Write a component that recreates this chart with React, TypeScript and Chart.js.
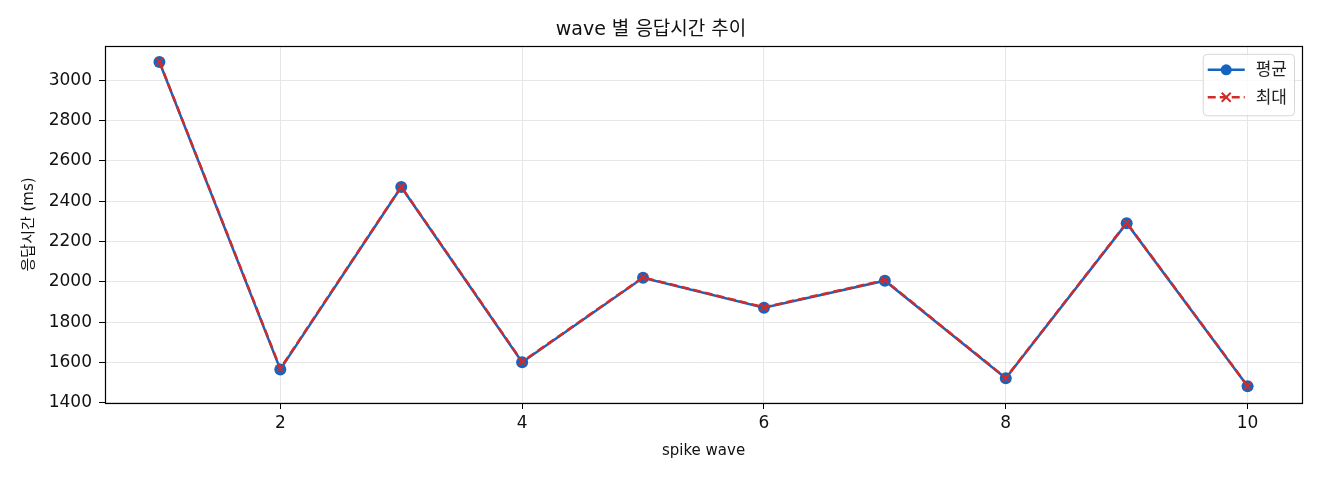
import React, { useEffect, useRef } from "react";
import { Chart, registerables } from "chart.js";

Chart.register(...registerables);

// spike wave index and response times (ms)
const waves = [1, 2, 3, 4, 5, 6, 7, 8, 9, 10];
const avgMs = [3090, 1566, 2470, 1602, 2020, 1872, 2006, 1522, 2291, 1482];
const maxMs = [3092, 1570, 2472, 1604, 2022, 1874, 2008, 1524, 2293, 1484];

const xTicks = [2, 4, 6, 8, 10];
const yTicks = [1400, 1600, 1800, 2000, 2200, 2400, 2600, 2800, 3000];
const xRange = [0.55, 10.45];
const yRange = [1399.5, 3170.5];

const BLUE = "#1565c0";
const RED = "#d02c2c";
const FONT = "'DejaVu Sans', 'Noto Sans CJK KR', sans-serif";

// matplotlib-like frame around the plot area
const framePlugin = {
  id: "frame",
  afterDatasetsDraw(chart: any) {
    const { ctx, chartArea: a } = chart;
    ctx.save();
    ctx.strokeStyle = "#000";
    ctx.lineWidth = 1.2;
    ctx.strokeRect(Math.round(a.left) + 0.5, Math.round(a.top) + 0.5, Math.round(a.right - a.left), Math.round(a.bottom - a.top));
    ctx.restore();
  },
};

// legend drawn inside the upper right corner of the plot area
const insideLegend = {
  id: "insideLegend",
  afterDraw(chart: any) {
    const { ctx, chartArea: a } = chart;
    const sets = chart.data.datasets;
    ctx.save();
    ctx.font = `17px ${FONT}`;
    const textW = Math.max(...sets.map((d: any) => ctx.measureText(d.label).width));
    const sample = 37;
    const rowH = 27.5;
    const w = 5 + sample + 11 + textW + 7;
    const h = 16 + rowH + 18;
    const x0 = a.right - 8 - w;
    const y0 = a.top + 8;

    ctx.beginPath();
    ctx.roundRect(x0 + 0.5, y0 + 0.5, w, h, 4);
    ctx.fillStyle = "rgba(255,255,255,0.8)";
    ctx.fill();
    ctx.strokeStyle = "#d6d6d6";
    ctx.lineWidth = 1;
    ctx.stroke();

    sets.forEach((d: any, i: number) => {
      const cy = y0 + 16 + i * rowH;
      const sx = x0 + 5;
      ctx.strokeStyle = d.borderColor;
      ctx.lineWidth = 2.5;
      ctx.setLineDash(d.borderDash || []);
      ctx.beginPath();
      ctx.moveTo(sx, cy);
      ctx.lineTo(sx + sample, cy);
      ctx.stroke();
      ctx.setLineDash([]);
      const mx = sx + sample / 2;
      if (d.pointStyle === "crossRot") {
        const r = 4.5;
        ctx.lineWidth = 2;
        ctx.beginPath();
        ctx.moveTo(mx - r, cy - r);
        ctx.lineTo(mx + r, cy + r);
        ctx.moveTo(mx + r, cy - r);
        ctx.lineTo(mx - r, cy + r);
        ctx.stroke();
      } else {
        ctx.fillStyle = d.pointBackgroundColor;
        ctx.beginPath();
        ctx.arc(mx, cy, 5.5, 0, Math.PI * 2);
        ctx.fill();
      }
      ctx.fillStyle = "#222";
      ctx.textBaseline = "middle";
      ctx.textAlign = "left";
      ctx.fillText(d.label, sx + sample + 11, cy + 1);
    });
    ctx.restore();
  },
};

export default function App() {
  const canvasRef = useRef<HTMLCanvasElement | null>(null);
  const chartRef = useRef<Chart | null>(null);

  useEffect(() => {
    if (!canvasRef.current) return;
    if (chartRef.current) chartRef.current.destroy();
    const ctx = canvasRef.current.getContext("2d");
    if (!ctx) return;

    chartRef.current = new Chart(ctx, {
      type: "line",
      data: {
        datasets: [
          {
            label: "평균",
            data: waves.map((w, i) => ({ x: w, y: avgMs[i] })),
            borderColor: BLUE,
            backgroundColor: BLUE,
            pointBackgroundColor: BLUE,
            pointBorderColor: BLUE,
            borderWidth: 2.5,
            pointRadius: 6,
            pointBorderWidth: 0,
            pointStyle: "circle",
            tension: 0,
            order: 2,
          },
          {
            label: "최대",
            data: waves.map((w, i) => ({ x: w, y: maxMs[i] })),
            borderColor: RED,
            backgroundColor: RED,
            pointBackgroundColor: RED,
            pointBorderColor: RED,
            borderWidth: 2.5,
            borderDash: [8, 4],
            pointRadius: 5,
            pointBorderWidth: 2,
            pointStyle: "crossRot",
            tension: 0,
            order: 1,
          },
        ],
      },
      options: {
        animation: false,
        responsive: true,
        maintainAspectRatio: false,
        layout: { padding: { left: 0, right: 18, top: 0, bottom: 0 } },
        plugins: {
          legend: { display: false },
          tooltip: { enabled: false },
          title: {
            display: true,
            text: "wave 별 응답시간 추이",
            color: "#111",
            font: { family: FONT, size: 19, weight: "normal" },
            padding: { top: 19, bottom: 4 },
          },
        },
        scales: {
          x: {
            type: "linear",
            min: xRange[0],
            max: xRange[1],
            afterBuildTicks: (axis: any) => {
              axis.ticks = xTicks.map((v) => ({ value: v }));
            },
            afterFit: (axis: any) => {
              axis.height = 77;
            },
            grid: {
              color: "#e6e6e6",
              lineWidth: 1,
              tickColor: "#000",
              tickLength: 6,
              tickWidth: 1,
            },
            border: { display: false },
            ticks: {
              color: "#111",
              font: { family: FONT, size: 17 },
              padding: 4,
              maxRotation: 0,
              callback: (v: any) => String(v),
            },
            title: {
              display: true,
              text: "spike wave",
              color: "#111",
              font: { family: FONT, size: 15 },
              padding: { top: 0, bottom: 20 },
            },
          },
          y: {
            type: "linear",
            min: yRange[0],
            max: yRange[1],
            afterBuildTicks: (axis: any) => {
              axis.ticks = yTicks.map((v) => ({ value: v }));
            },
            afterFit: (axis: any) => {
              axis.width = 105;
            },
            grid: {
              color: "#e6e6e6",
              lineWidth: 1,
              tickColor: "#000",
              tickLength: 6,
              tickWidth: 1,
            },
            border: { display: false },
            ticks: {
              color: "#111",
              font: { family: FONT, size: 17 },
              padding: 7,
              callback: (v: any) => String(v),
            },
            title: {
              display: true,
              text: "응답시간 (ms)",
              color: "#111",
              font: { family: FONT, size: 15 },
              padding: { top: 20, bottom: 0 },
            },
          },
        },
      },
      plugins: [framePlugin, insideLegend],
    });

    return () => {
      if (chartRef.current) {
        chartRef.current.destroy();
        chartRef.current = null;
      }
    };
  }, []);

  return (
    <div style={{ position: "fixed", left: 0, top: 0, width: "1320px", height: "480px", background: "#fff" }}>
      <canvas ref={canvasRef} />
    </div>
  );
}
